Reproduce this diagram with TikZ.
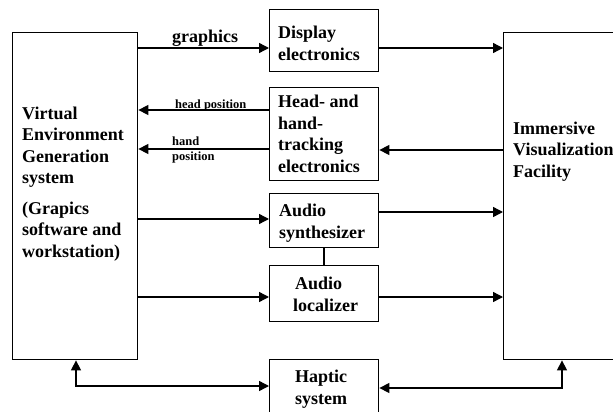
\documentclass[tikz,border=0pt]{standalone}
\usepackage{fontspec}
\setmainfont{Liberation Serif}
\usetikzlibrary{arrows.meta}

\tikzset{
  blk/.style={draw, line width=1.4pt, anchor=north west, inner sep=0pt},
  % multi-line texts are placed by the baseline of their last line
  txt/.style={anchor=base west, align=left, inner sep=0pt,
              font=\bfseries\fontsize{18}{21.5}\selectfont},
  small/.style={anchor=base west, align=left, inner sep=0pt,
                font=\bfseries\fontsize{12.5}{15}\selectfont},
  conn/.style={line width=1.4pt},
  arr/.style={conn, -{Triangle[length=10pt,width=10pt]}},
  arrb/.style={conn, {Triangle[length=10pt,width=10pt]}-{Triangle[length=10pt,width=10pt]}}
}

\begin{document}
\begin{tikzpicture}[x=1pt, y=-1pt]
\useasboundingbox (0,0) rectangle (613,412);
\clip (0,0) rectangle (613,412);

% blocks
\node[blk, minimum width=125pt, minimum height=327pt] (veg)   at (12,32)  {};
\node[blk, minimum width=109pt, minimum height=62pt]  (disp)  at (269,9)  {};
\node[blk, minimum width=109pt, minimum height=93pt]  (track) at (269,87) {};
\node[blk, minimum width=109pt, minimum height=54pt]  (synth) at (269,193) {};
\node[blk, minimum width=109pt, minimum height=56pt]  (loc)   at (269,265) {};
\node[blk, minimum width=109pt, minimum height=70pt]  (hap)   at (269,359) {};
\node[blk, minimum width=140pt, minimum height=327pt] (ivf)   at (503,32) {};

% block texts
\node[txt] (vegt) at (22,257) {Virtual\\Environment\\Generation\\system\\[9pt](Grapics\\software and\\workstation)};
\node[txt] (dispt)  at (278,60) {Display\\electronics};
\node[txt] (trackt) at (278,172) {Head- and\\hand-\\tracking\\electronics};
\node[txt] (syntht) at (279,238) {Audio\\synthesizer};
\node[txt] (loct)   at (293,311) {\hspace{2pt}Audio\\localizer};
\node[txt] (hapt)   at (295,404) {Haptic\\system};
\node[txt] (ivft)   at (513,177) {Immersive\\Visualization\\Facility};

% connectors
\draw[arr] (veg.east |- 0,48) -- (disp.west |- 0,48);
\draw[arr] (disp.east |- 0,48) -- (ivf.west |- 0,48);
\draw[arr] (track.west |- 0,110) -- (veg.east |- 0,110);
\draw[arr] (track.west |- 0,149) -- (veg.east |- 0,149);
\draw[arr] (ivf.west |- 0,150) -- (track.east |- 0,150);
\draw[arr] (veg.east |- 0,219) -- (synth.west |- 0,219);
\draw[arr] (synth.east |- 0,212) -- (ivf.west |- 0,212);
\draw[conn] (synth.south -| 324,0) -- (loc.north -| 324,0);
\draw[arr] (veg.east |- 0,297) -- (loc.west |- 0,297);
\draw[arr] (loc.east |- 0,297) -- (ivf.west |- 0,297);
\draw[arrb] (veg.south -| 76,0) |- (hap.west |- 0,386);
\draw[arrb] (hap.east |- 0,388) -| (ivf.south -| 562,0);

% connector labels
\node[txt] (lgfx) at (172,43) {graphics};
\node[small] (lhead) at (175,108) {head position};
\node[small] (lhand) at (172,160) {hand\\position};
\end{tikzpicture}
\end{document}
